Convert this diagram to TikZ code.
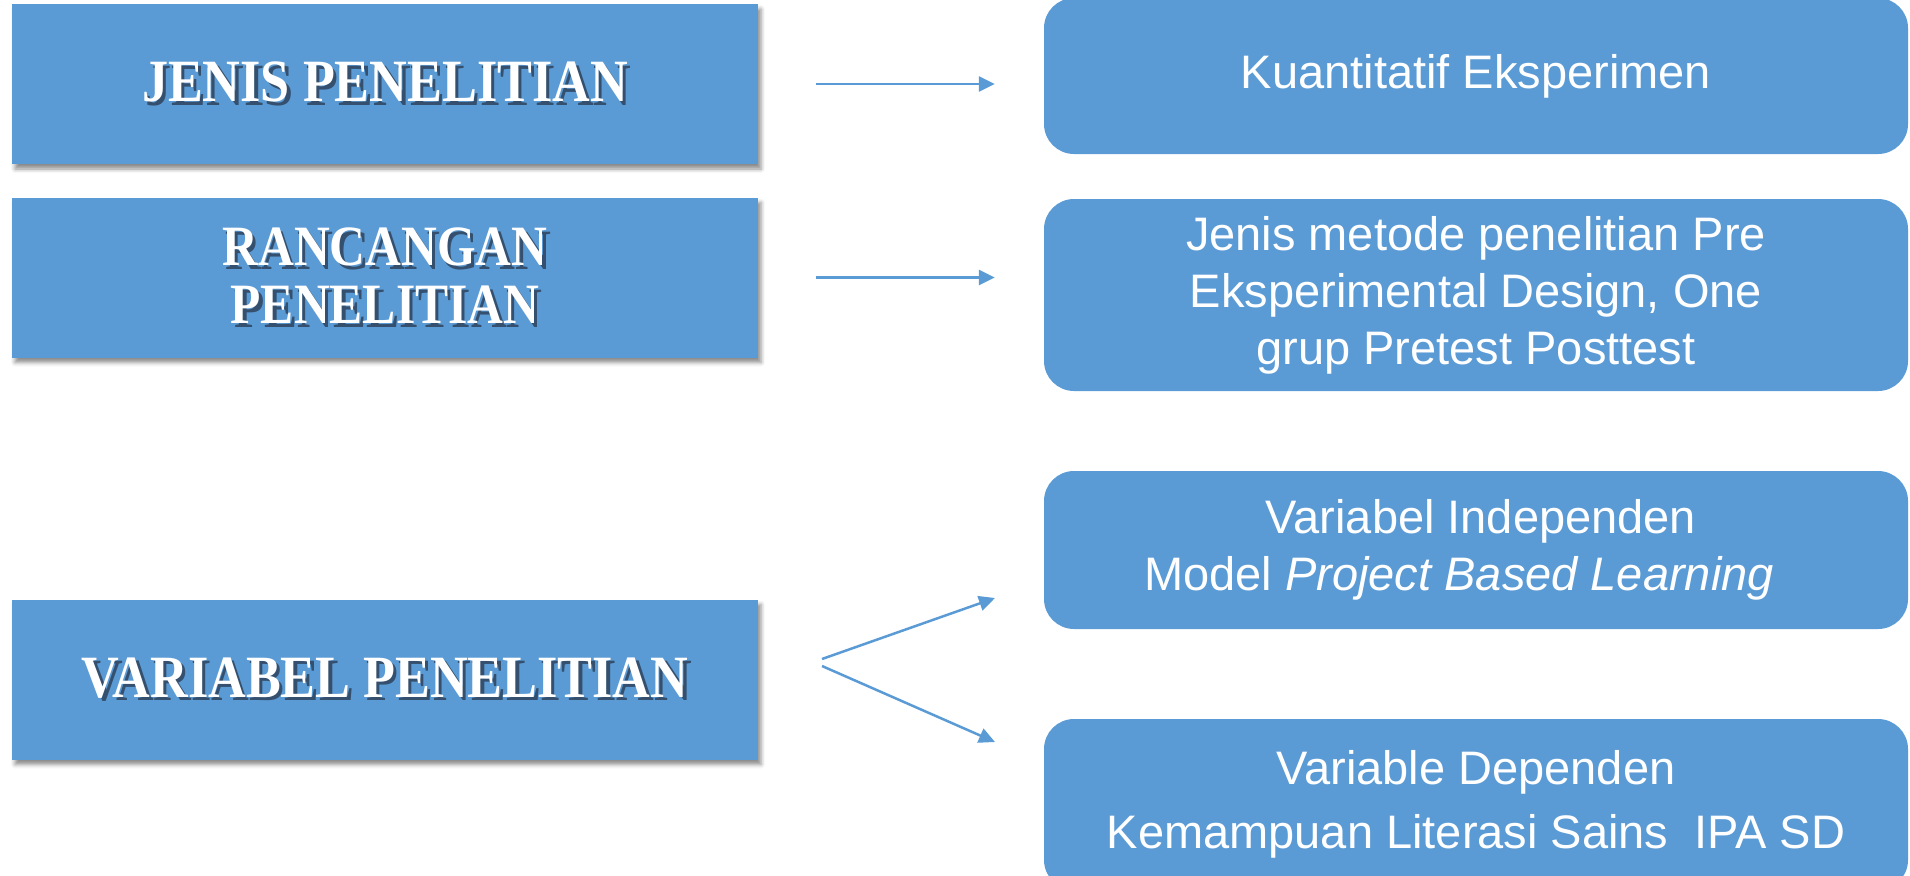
\documentclass[tikz,border=0pt]{standalone}
\usepackage{fontspec}
\setmainfont{Liberation Sans}
\newfontfamily\titlefont[FakeStretch=0.87]{Liberation Serif}
\usetikzlibrary{arrows.meta,shadows.blur}
\definecolor{boxblue}{HTML}{5B9BD5}
\definecolor{txtshadow}{HTML}{34506E}
\newcommand{\shd}[1]{\makebox[0pt][l]{\hspace{3.5pt}\raisebox{-3.5pt}{\textcolor{txtshadow}{#1}}}#1}
\begin{document}
\begin{tikzpicture}[x=1pt,y=-1pt]
\tikzset{
 leftbox/.style={fill=boxblue, minimum width=746pt, minimum height=160pt, text=white,
   font=\titlefont\bfseries\fontsize{60}{60}\selectfont, align=center, inner sep=0pt,
   blur shadow={shadow xshift=3pt, shadow yshift=-5pt, shadow blur radius=4pt, shadow opacity=45}},
 rightbox/.style={fill=boxblue, rounded corners=30pt, minimum width=864pt, text=white,
   font=\fontsize{47}{57}\selectfont, align=center, inner sep=0pt},
 link/.style={draw=boxblue, line width=2.5pt, -{Triangle[length=16pt,width=15pt]}}
}
\useasboundingbox (0,0) rectangle (1910,875);
% left boxes
\node[leftbox] (jenis) at (385,84) {\shd{JENIS PENELITIAN}};
\node[leftbox, font=\titlefont\bfseries\fontsize{57}{58}\selectfont] (rancangan) at (385,277.5) {\shd{RANCANGAN}\\\shd{PENELITIAN}};
\node[leftbox] (variabel) at (385,679.5) {\shd{VARIABEL PENELITIAN}};
% right boxes
\node[rightbox, minimum height=156pt] (kuan) at (1476,76) {Kuantitatif Eksperimen};
\node[rightbox, minimum height=192pt] (metode) at (1476,295) {Jenis metode penelitian Pre\\Eksperimental Design, One\\grup Pretest Posttest};
\node[rightbox, minimum height=158pt] (indep) at (1476,550) {\hspace*{10pt}Variabel Independen\\Model \textit{Project Based Learning}\hspace*{34pt}};
\node[rightbox, minimum height=171pt, font=\fontsize{47}{64}\selectfont] (dep) at (1476,804.5) {Variable Dependen\\Kemampuan Literasi Sains~ IPA SD};
% connectors
\draw[link, shorten <=58pt, shorten >=49pt] (jenis.east) -- (jenis.east -| kuan.west);
\draw[link, shorten <=58pt, shorten >=49pt] (rancangan.east) -- (rancangan.east -| metode.west);
\coordinate (fork1) at (822,659);
\coordinate (fork2) at (822,666);
\coordinate (tip1) at (995,598);
\coordinate (tip2) at (995,742);
\draw[link] (fork1) -- (tip1);
\draw[link] (fork2) -- (tip2);
\end{tikzpicture}
\end{document}
